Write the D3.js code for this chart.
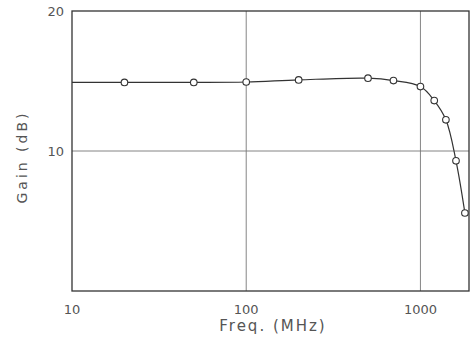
<!DOCTYPE html>
<html><head><meta charset="utf-8">
<script src="https://cdn.jsdelivr.net/npm/d3@7"></script>
<style>body{margin:0;background:#fff}svg{display:block}text{font-family:"DejaVu Sans",sans-serif;fill:#555}</style>
</head><body>
<script>
const freqs = [20, 50, 100, 200, 500, 700, 1000, 1200, 1400, 1600, 1800];
const gains = [14.9, 14.9, 14.93, 15.08, 15.2, 15.03, 14.6, 13.6, 12.23, 9.3, 5.57];
const xTicks = [10, 100, 1000];
const xTickLabels = ["10", "100", "1000"];
const yTicks = [10, 20];
const yTickLabels = ["10", "20"];

const W = 474, H = 349;
const L = 72, R = 469, T = 11, B = 291;
const svg = d3.select("body").append("svg").attr("width", W).attr("height", H);
const x = d3.scaleLog().domain([10, 1900]).range([L, R]);
const y = d3.scaleLinear().domain([0, 20]).range([B, T]);

// grid
svg.append("g").selectAll("line").data([100, 1000]).join("line")
  .attr("x1", d => x(d)).attr("x2", d => x(d)).attr("y1", T).attr("y2", B)
  .attr("stroke", "#777").attr("stroke-width", 0.9);
svg.append("g").selectAll("line").data([10]).join("line")
  .attr("x1", L).attr("x2", R).attr("y1", d => y(d)).attr("y2", d => y(d))
  .attr("stroke", "#777").attr("stroke-width", 0.9);
// frame
svg.append("rect").attr("x", L).attr("y", T).attr("width", R - L).attr("height", B - T)
  .attr("fill", "none").attr("stroke", "#333").attr("stroke-width", 1.3);

// tick labels
svg.append("g").selectAll("text").data(xTicks).join("text")
  .attr("x", d => x(d)).attr("y", 314).attr("text-anchor", "middle")
  .attr("font-size", 13).text((d, i) => xTickLabels[i]);
svg.append("g").selectAll("text").data(yTicks).join("text")
  .attr("x", 64).attr("y", d => y(d) + 5).attr("text-anchor", "end")
  .attr("font-size", 13).text((d, i) => yTickLabels[i]);

// axis titles
svg.append("text").attr("x", 273).attr("y", 331).attr("text-anchor", "middle")
  .attr("font-size", 15).attr("letter-spacing", 2).text("Freq. (MHz)");
svg.append("text").attr("transform", "translate(27,157) rotate(-90)").attr("text-anchor", "middle")
  .attr("font-size", 14).attr("letter-spacing", 3).text("Gain (dB)");

// line (extends from left frame to first point at the same level)
const pts = freqs.map((f, i) => [f, gains[i]]);
svg.append("line").attr("x1", x(10)).attr("x2", x(freqs[0]))
  .attr("y1", y(gains[0])).attr("y2", y(gains[0]))
  .attr("stroke", "#333").attr("stroke-width", 1.2);
svg.append("path").datum(pts)
  .attr("d", d3.line().x(d => x(d[0])).y(d => y(d[1])).curve(d3.curveCatmullRom))
  .attr("fill", "none").attr("stroke", "#333").attr("stroke-width", 1.2);
svg.append("g").selectAll("circle").data(pts).join("circle")
  .attr("cx", d => x(d[0])).attr("cy", d => y(d[1])).attr("r", 3.3)
  .attr("fill", "#fff").attr("stroke", "#333").attr("stroke-width", 1.1);
</script>
</body></html>
